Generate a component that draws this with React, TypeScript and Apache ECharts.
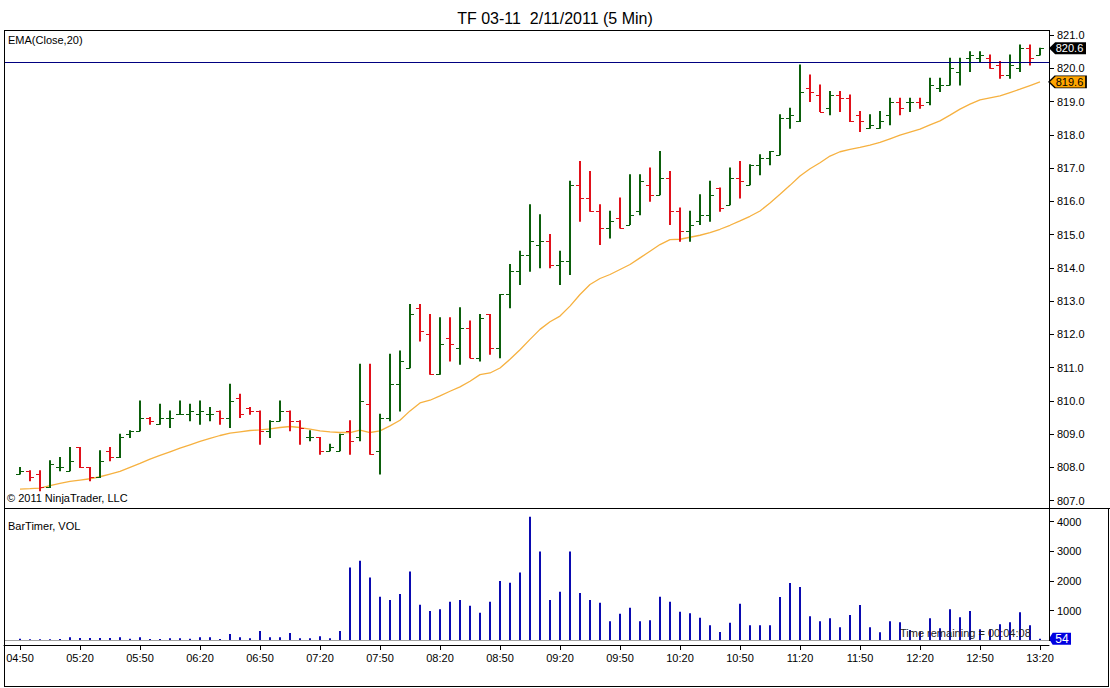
import React, { useEffect, useRef } from 'react';
import * as echarts from 'echarts';

const FONT = '"Liberation Sans", Arial, Helvetica, sans-serif';

// time axis tick labels (every 6th 5-minute bar)
const tickLabels = ['04:50', '05:20', '05:50', '06:20', '06:50', '07:20', '07:50', '08:20', '08:50', '09:20', '09:50', '10:20', '10:50', '11:20', '11:50', '12:20', '12:50', '13:20'];
const priceTicks = [807, 808, 809, 810, 811, 812, 813, 814, 815, 816, 817, 818, 819, 820, 821];

const open = [
  807.8, 807.9, 807.8, 807.4, 808.0, 807.9, 808.6, 808.0, 807.7, 808.5,
  808.3, 809.0, 809.1, 809.5, 809.3, 809.5, 809.6, 809.6, 809.6, 809.6,
  809.7, 809.5, 810.1, 809.8, 809.7, 809.1, 809.4, 809.7, 809.4, 808.9,
  808.9, 808.5, 808.5, 809.1, 808.9, 809.9, 808.5, 809.5, 810.5, 811.0,
  812.8, 812.0, 810.8, 811.9, 811.6, 812.2, 811.3, 812.6, 811.6, 813.2,
  813.9, 814.4, 814.7, 814.8, 814.1, 814.2, 816.5, 816.1, 815.7, 815.2,
  815.5, 815.3, 815.7, 816.5, 816.2, 816.7, 815.7, 815.1, 815.4, 815.6,
  816.4, 815.9, 816.7, 816.5, 817.1, 817.3, 817.4, 818.5, 818.4, 819.4,
  819.2, 818.8, 819.2, 819.1, 818.6, 818.2, 818.2, 818.6, 819.0, 819.0,
  819.0, 819.0, 819.4, 819.5, 819.9, 820.3, 820.3, 820.3, 820.1, 819.8,
  820.0, 820.6, 820.4,
];
const high = [
  808.0, 807.9, 807.9, 808.2, 808.3, 808.6, 808.6, 808.0, 808.5, 808.6,
  809.0, 809.1, 810.0, 809.5, 809.9, 809.7, 810.0, 809.9, 810.0, 809.8,
  809.7, 810.5, 810.2, 809.8, 809.7, 809.4, 810.0, 809.7, 809.4, 809.1,
  808.9, 808.7, 809.0, 809.4, 811.1, 811.1, 809.6, 811.4, 811.5, 812.9,
  812.9, 812.6, 812.5, 812.5, 812.8, 812.4, 812.6, 812.6, 813.2, 814.1,
  814.5, 815.9, 815.6, 815.0, 814.5, 816.6, 817.2, 816.9, 815.9, 815.7,
  816.1, 816.8, 816.8, 817.0, 817.5, 816.9, 815.8, 815.7, 816.2, 816.6,
  816.4, 817.0, 817.2, 817.1, 817.4, 817.5, 818.6, 818.8, 820.1, 819.8,
  819.5, 819.3, 819.3, 819.2, 818.7, 818.6, 818.7, 819.1, 819.1, 819.1,
  819.1, 819.7, 819.7, 820.3, 820.3, 820.5, 820.5, 820.4, 820.2, 820.4,
  820.7, 820.7, 820.6,
];
const low = [
  807.8, 807.6, 807.3, 807.4, 807.9, 807.9, 808.0, 807.6, 807.7, 808.2,
  808.3, 808.9, 809.1, 809.3, 809.3, 809.2, 809.6, 809.4, 809.3, 809.4,
  809.3, 809.2, 809.5, 809.6, 808.7, 808.9, 809.4, 809.1, 808.7, 808.8,
  808.4, 808.5, 808.5, 808.4, 808.8, 808.4, 807.8, 809.4, 809.7, 811.0,
  811.8, 810.8, 810.8, 811.2, 811.1, 811.3, 811.2, 811.4, 811.3, 812.8,
  813.5, 813.9, 814.0, 814.0, 813.5, 813.8, 815.4, 815.7, 814.7, 814.9,
  815.2, 815.3, 815.6, 816.0, 816.2, 815.3, 814.8, 814.8, 815.3, 815.4,
  815.7, 815.9, 816.1, 816.5, 816.8, 817.1, 817.4, 818.2, 818.4, 819.0,
  818.7, 818.6, 818.7, 818.4, 818.1, 818.2, 818.2, 818.3, 818.6, 818.7,
  818.8, 818.9, 819.3, 819.5, 819.5, 819.9, 820.2, 820.0, 819.7, 819.7,
  819.9, 820.1, 820.4,
];
const close = [
  807.9, 807.7, 807.4, 808.1, 808.0, 808.2, 808.0, 807.7, 808.2, 808.3,
  808.9, 809.1, 809.5, 809.4, 809.5, 809.5, 809.6, 809.7, 809.7, 809.6,
  809.5, 810.0, 809.6, 809.7, 809.1, 809.4, 809.7, 809.4, 809.2, 808.9,
  808.5, 808.6, 809.0, 808.8, 810.0, 808.4, 809.5, 810.5, 811.2, 812.6,
  812.1, 810.8, 811.7, 811.7, 812.2, 811.3, 812.5, 811.6, 813.2, 813.9,
  814.4, 814.8, 814.8, 814.1, 814.2, 816.5, 816.1, 815.7, 815.2, 815.4,
  815.2, 815.6, 816.6, 816.2, 816.7, 815.7, 815.1, 815.3, 815.6, 816.2,
  815.8, 816.7, 816.6, 817.1, 817.3, 817.5, 818.5, 818.6, 819.3, 819.3,
  818.7, 819.2, 819.1, 818.4, 818.4, 818.3, 818.4, 819.0, 818.8, 819.0,
  818.9, 819.5, 819.5, 820.0, 820.2, 820.4, 820.4, 820.0, 819.8, 820.1,
  820.6, 820.3, 820.6,
];
const ema20 = [
  807.35, 807.36, 807.38, 807.45, 807.52, 807.58, 807.62, 807.66, 807.72, 807.80,
  807.88, 808.00, 808.12, 808.25, 808.36, 808.47, 808.58, 808.68, 808.78, 808.87,
  808.96, 809.03, 809.07, 809.11, 809.13, 809.16, 809.20, 809.23, 809.20, 809.15,
  809.10, 809.07, 809.05, 809.05, 809.12, 809.05, 809.10, 809.25, 809.42, 809.70,
  809.94, 810.02, 810.15, 810.29, 810.42, 810.59, 810.79, 810.84, 810.99, 811.25,
  811.54, 811.85, 812.15, 812.38, 812.55, 812.85, 813.20, 813.50, 813.68, 813.80,
  813.95, 814.10, 814.30, 814.50, 814.70, 814.85, 814.86, 814.92, 814.98, 815.06,
  815.16, 815.28, 815.41, 815.55, 815.71, 815.95, 816.21, 816.48, 816.76, 816.98,
  817.16, 817.36, 817.49, 817.56, 817.62, 817.69, 817.77, 817.88, 817.99, 818.08,
  818.17, 818.30, 818.42, 818.59, 818.77, 818.92, 819.05, 819.11, 819.17, 819.27,
  819.37, 819.48, 819.59,
];
const volume = [
  50, 35, 35, 35, 45, 100, 80, 80, 80, 80,
  100, 55, 100, 45, 45, 65, 65, 55, 100, 100,
  45, 215, 100, 65, 315, 100, 100, 250, 65, 65,
  135, 65, 315, 2455, 2685, 2115, 1470, 1360, 1560, 2320,
  1200, 985, 1050, 1300, 1360, 1165, 925, 1300, 2000, 1945,
  2285, 4170, 2995, 1360, 1640, 2995, 1595, 1360, 1265, 645,
  895, 1100, 645, 680, 1470, 1300, 960, 915, 760, 510,
  280, 590, 1230, 510, 510, 510, 1460, 1930, 1800, 815,
  645, 745, 440, 850, 1190, 440, 270, 645, 610, 350,
  300, 745, 405, 1050, 780, 985, 375, 375, 540, 610,
  950, 510, 54,
];
const hLineLevel = 820.17;

const XMIN = -1.6;
const XMAX = 102.9;
const GREEN = '#0B5E0B';
const RED = '#E0101A';
const VOLC = '#0A0AB0';
const EMAC = '#F6B140';

export default function App() {
  const ref = useRef<HTMLDivElement>(null);

  useEffect(() => {
    const chart = echarts.init(ref.current as HTMLDivElement, null, { renderer: 'svg' });
    const tickPos = tickLabels.map((_, k) => k * 6);
    const ohlc = open.map((o, i) => [i, o, high[i], low[i], close[i]]);
    const last = close.length - 1;

    const arrow = 'path://M0,6L6,0L36,0L36,12L6,12Z';

    const frame = (x1: number, y1: number, x2: number, y2: number, color = '#000') => ({
      type: 'line',
      shape: { x1, y1, x2, y2 },
      style: { stroke: color, lineWidth: 1 },
      silent: true,
      z: 50,
    });

    const option: any = {
      animation: false,
      backgroundColor: '#ffffff',
      textStyle: { fontFamily: FONT },
      title: {
        text: 'TF 03-11  2/11/2011 (5 Min)',
        left: 'center',
        top: 5,
        textStyle: { fontSize: 16, fontWeight: 'normal', color: '#000', fontFamily: FONT },
      },
      grid: [
        { left: 4, right: 61, top: 35, height: 465.7 },
        { left: 4, right: 61, top: 521.7, height: 118.6 },
      ],
      xAxis: [
        { type: 'value', gridIndex: 0, min: XMIN, max: XMAX, show: false, axisLine: { onZero: false }, splitLine: { show: false } },
        {
          type: 'value',
          gridIndex: 1,
          min: XMIN,
          max: XMAX,
          offset: 4.7,
          axisLine: { show: true, onZero: false, lineStyle: { color: '#000', width: 1 } },
          axisTick: { show: true, length: 5, customValues: tickPos, lineStyle: { color: '#000' } },
          axisLabel: {
            customValues: tickPos,
            formatter: (v: number) => tickLabels[tickPos.indexOf(Math.round(v))] ?? '',
            fontSize: 11,
            color: '#000',
            margin: 7,
            fontFamily: FONT,
          },
          splitLine: { show: false },
        },
      ],
      yAxis: [
        {
          type: 'value',
          gridIndex: 0,
          position: 'right',
          min: 807,
          max: 821,
          interval: 1,
          axisLine: { show: false, onZero: false },
          axisTick: { show: true, length: 5, customValues: priceTicks, lineStyle: { color: '#000' } },
          axisLabel: {
            customValues: priceTicks,
            formatter: (v: number) => v.toFixed(1),
            fontSize: 11,
            color: '#000',
            margin: 8,
            fontFamily: FONT,
          },
          splitLine: { show: false },
        },
        {
          type: 'value',
          gridIndex: 1,
          position: 'right',
          min: 0,
          max: 4000,
          interval: 1000,
          axisLine: { show: false, onZero: false },
          axisTick: { show: true, length: 5, lineStyle: { color: '#000' } },
          axisLabel: {
            formatter: (v: number) => (v === 0 ? '' : String(v)),
            fontSize: 11,
            color: '#000',
            margin: 8,
            fontFamily: FONT,
          },
          splitLine: { show: false },
        },
      ],
      series: [
        {
          type: 'line',
          name: 'EMA(Close,20)',
          xAxisIndex: 0,
          yAxisIndex: 0,
          data: ema20.map((v, i) => [i, v]),
          showSymbol: false,
          symbol: 'none',
          lineStyle: { color: EMAC, width: 1.3 },
          z: 2,
          markLine: {
            silent: true,
            symbol: ['none', 'none'],
            label: { show: false },
            lineStyle: { color: '#000080', width: 1, type: 'solid' },
            data: [{ yAxis: hLineLevel }],
          },
          markPoint: {
            silent: true,
            symbol: arrow,
            symbolSize: [37, 12],
            symbolOffset: [18.5, 0],
            itemStyle: { color: '#FFA500', borderColor: '#000', borderWidth: 1 },
            label: {
              show: true,
              position: 'inside',
              color: '#000',
              fontSize: 11,
              fontFamily: FONT,
              offset: [2, 0],
              formatter: (p: any) => p.value,
            },
            data: [{ coord: [XMAX, ema20[last]], value: ema20[last].toFixed(1) }],
          },
        },
        {
          type: 'custom',
          name: 'TF 03-11',
          xAxisIndex: 0,
          yAxisIndex: 0,
          data: ohlc,
          encode: { x: 0, y: [1, 2, 3, 4] },
          z: 3,
          renderItem: (params: any, api: any) => {
            const i = api.value(0);
            const o = api.value(1);
            const h = api.value(2);
            const l = api.value(3);
            const c = api.value(4);
            const pH = api.coord([i, h]);
            const pL = api.coord([i, l]);
            const pO = api.coord([i, o]);
            const pC = api.coord([i, c]);
            const color = c >= o ? GREEN : RED;
            const x = Math.round(pH[0]);
            return {
              type: 'group',
              children: [
                { type: 'line', shape: { x1: x, y1: pH[1] - 0.5, x2: x, y2: pL[1] + 0.5 }, style: { stroke: color, lineWidth: 2 } },
                { type: 'line', shape: { x1: x - 4, y1: Math.round(pO[1]) + 0.5, x2: x, y2: Math.round(pO[1]) + 0.5 }, style: { stroke: color, lineWidth: 1 } },
                { type: 'line', shape: { x1: x, y1: Math.round(pC[1]) + 0.5, x2: x + 4, y2: Math.round(pC[1]) + 0.5 }, style: { stroke: color, lineWidth: 1 } },
              ],
            };
          },
          markPoint: {
            silent: true,
            symbol: arrow,
            symbolSize: [37, 12],
            symbolOffset: [18.5, 0],
            itemStyle: { color: '#000' },
            label: {
              show: true,
              position: 'inside',
              color: '#fff',
              fontSize: 11,
              fontFamily: FONT,
              offset: [2, 0],
              formatter: (p: any) => p.value,
            },
            data: [{ coord: [XMAX, close[last]], value: close[last].toFixed(1) }],
          },
        },
        {
          type: 'bar',
          name: 'VOL',
          xAxisIndex: 1,
          yAxisIndex: 1,
          data: volume.map((v, i) => [i, v]),
          barWidth: 2,
          clip: false,
          itemStyle: { color: VOLC },
          markLine: {
            silent: true,
            symbol: ['none', 'none'],
            label: { show: false },
            lineStyle: { color: '#A0A0A0', width: 1, type: 'solid' },
            data: [{ yAxis: 0 }],
          },
          markPoint: {
            silent: true,
            symbol: arrow,
            symbolSize: [22, 12],
            symbolOffset: [11, 0],
            itemStyle: { color: '#0000E0' },
            label: {
              show: true,
              position: 'inside',
              color: '#fff',
              fontSize: 12,
              fontFamily: FONT,
              offset: [2, 0],
              formatter: (p: any) => p.value,
            },
            data: [{ coord: [XMAX, volume[last]], value: String(volume[last]) }],
          },
        },
      ],
      graphic: [
        frame(4, 30.5, 1049, 30.5),
        frame(4.5, 30, 4.5, 687),
        frame(1049.5, 30, 1049.5, 641),
        frame(4, 508.5, 1110, 508.5),
        frame(4, 686.5, 1109, 686.5),
        frame(1108.5, 508, 1108.5, 687),
        { type: 'text', left: 8, top: 34, style: { text: 'EMA(Close,20)', fontSize: 11, fill: '#000', fontFamily: FONT }, silent: true },
        { type: 'text', left: 7, top: 492, style: { text: '© 2011 NinjaTrader, LLC', fontSize: 11, fill: '#000', fontFamily: FONT }, silent: true },
        { type: 'text', left: 8, top: 520, style: { text: 'BarTimer, VOL', fontSize: 11, fill: '#000', fontFamily: FONT }, silent: true },
        { type: 'text', left: 900, top: 627, z: 60, style: { text: 'Time remaining = 00:04:08', fontSize: 11, fill: '#222', fontFamily: FONT }, silent: true },
      ],
    };

    chart.setOption(option);
    return () => chart.dispose();
  }, []);

  return (
    <div
      ref={ref}
      style={{ position: 'absolute', left: 0, top: 0, width: 1110, height: 688, background: '#fff' }}
    />
  );
}
